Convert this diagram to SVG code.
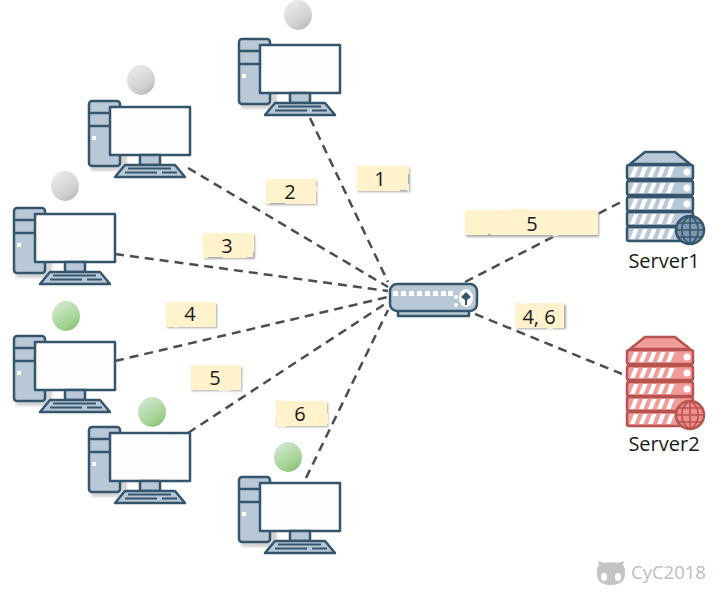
<svg xmlns="http://www.w3.org/2000/svg" width="718" height="591" viewBox="0 0 718 591">
<style>
text{font-family:"Open Sans","Noto Sans","DejaVu Sans",sans-serif;fill:#1a1a1a}
.lab{font-size:20px;text-anchor:middle}
.srv{font-size:20px;text-anchor:middle}
.note{fill:#fff2cc;filter:url(#rough)}
.shadow{fill:#a8a8a8;filter:url(#soft)}
.conn{stroke:#4d4d4d;stroke-width:2.500;stroke-dasharray:9 6;fill:none}
.o{stroke:#34556e;stroke-width:2.500;stroke-linejoin:round}
.b{fill:#b9c8d6}
.w{fill:#fdfdfd}
.r{stroke:#b85450;stroke-width:2.500;stroke-linejoin:round}
.rb{fill:#f19c99}
</style>
<defs>
<filter id="rough" x="-5%" y="-10%" width="110%" height="120%"><feTurbulence type="fractalNoise" baseFrequency="0.06" numOctaves="2" seed="4"/><feDisplacementMap in="SourceGraphic" scale="3"/></filter>
<filter id="soft" x="-10%" y="-20%" width="120%" height="140%"><feGaussianBlur stdDeviation="1"/></filter>
<linearGradient id="gg" x1="0.200" y1="0" x2="0.800" y2="1"><stop offset="0" stop-color="#ececec"/><stop offset="0.700" stop-color="#d0d0d0"/><stop offset="1" stop-color="#b4b4b4"/></linearGradient>
<linearGradient id="gr" x1="0.200" y1="0" x2="0.800" y2="1"><stop offset="0" stop-color="#d5e8d4"/><stop offset="0.700" stop-color="#a3d392"/><stop offset="1" stop-color="#84bd70"/></linearGradient>
<g id="pc">
<rect x="2" y="8" width="36" height="62" fill="#d4d4d4" filter="url(#soft)"/>
<rect x="0" y="0" width="31" height="65" rx="3" class="o b"/>
<path d="M0 12H31M0 25H31" class="o" fill="none"/>
<rect x="3" y="35" width="4" height="4" fill="#fff"/>
<rect x="21" y="6" width="80" height="48" class="o w"/>
<rect x="51" y="54" width="20" height="10" class="o b"/>
<path d="M36 64H86L96 76H26Z" class="o b"/>
<path d="M39 67.500H82M36 71.500H68M73 71.500H88" stroke="#34556e" stroke-width="2" fill="none"/>
</g>
<g id="stripes" fill="#fff">
<path d="M7 2h4.500l-4 10h-4.500zM16 2h4.500l-4 10h-4.500zM25 2h4.500l-4 10h-4.500zM34 2h4.500l-4 10h-4.500zM43 2h4.500l-4 10h-4.500z"/>
</g>
<g id="srvS">
<path d="M3 12L18 0H48L63 12Z" class="o b"/>
<g class="o"><rect x="0" y="13" width="66" height="14" rx="2" class="b"/><rect x="0" y="29" width="66" height="14" rx="2" class="b"/><rect x="0" y="45" width="66" height="14" rx="2" class="b"/><rect x="0" y="60" width="66" height="14" rx="2" class="b"/><rect x="0" y="75" width="66" height="14" rx="2" class="b"/></g>
<use href="#stripes" y="13"/><use href="#stripes" y="29"/><use href="#stripes" y="45"/><use href="#stripes" y="60"/><use href="#stripes" y="75"/>
<circle cx="60" cy="20" r="3.500" fill="#fff"/><circle cx="60" cy="36" r="3.500" fill="#fff"/><circle cx="60" cy="52" r="3.500" fill="#fff"/>
<circle cx="63" cy="78" r="14" fill="#7f98ad" class="o"/>
<path d="M63 64V92M49 78H77M51 71H75M51 85H75M63 64C52 70 52 86 63 92M63 64C74 70 74 86 63 92" stroke="#34556e" stroke-width="1.600" fill="none"/>
</g>
<g id="srvR">
<path d="M3 12L18 0H48L63 12Z" class="r rb"/>
<g class="r"><rect x="0" y="13" width="66" height="14" rx="2" class="rb"/><rect x="0" y="29" width="66" height="14" rx="2" class="rb"/><rect x="0" y="45" width="66" height="14" rx="2" class="rb"/><rect x="0" y="60" width="66" height="14" rx="2" class="rb"/><rect x="0" y="75" width="66" height="14" rx="2" class="rb"/></g>
<use href="#stripes" y="13"/><use href="#stripes" y="29"/><use href="#stripes" y="45"/><use href="#stripes" y="60"/><use href="#stripes" y="75"/>
<circle cx="60" cy="20" r="3.500" fill="#fff"/><circle cx="60" cy="36" r="3.500" fill="#fff"/><circle cx="60" cy="52" r="3.500" fill="#fff"/>
<circle cx="63" cy="78" r="14" fill="#ee8f8c" class="r"/>
<path d="M63 64V92M49 78H77M51 71H75M51 85H75M63 64C52 70 52 86 63 92M63 64C74 70 74 86 63 92" stroke="#b85450" stroke-width="1.600" fill="none"/>
</g>
</defs>
<rect width="718" height="591" fill="#fff"/>
<g id="connectors">
<path class="conn" d="M310 118L388 282"/>
<path class="conn" d="M188 168L388 287"/>
<path class="conn" d="M115 254L388 291"/>
<path class="conn" d="M115 361L388 297"/>
<path class="conn" d="M188 433L388 302"/>
<path class="conn" d="M306 478L388 310"/>
<path class="conn" d="M465 282L625 200"/>
<path class="conn" d="M475 314L622 374"/>
</g>
<g id="pc1"><use href="#pc" x="239" y="39"/><ellipse cx="298" cy="15" rx="14" ry="15" fill="url(#gg)"/></g>
<g id="pc2"><use href="#pc" x="89" y="101"/><ellipse cx="141" cy="80" rx="14" ry="15" fill="url(#gg)"/></g>
<g id="pc3"><use href="#pc" x="14" y="208"/><ellipse cx="65" cy="186" rx="14" ry="15" fill="url(#gg)"/></g>
<g id="pc4"><use href="#pc" x="14" y="336"/><ellipse cx="66" cy="316" rx="14" ry="15" fill="url(#gr)"/></g>
<g id="pc5"><use href="#pc" x="89" y="427"/><ellipse cx="152" cy="412" rx="14" ry="15" fill="url(#gr)"/></g>
<g id="pc6"><use href="#pc" x="239" y="477"/><ellipse cx="288" cy="457" rx="14" ry="15" fill="url(#gr)"/></g>
<g id="switch">
<rect x="398" y="306" width="71" height="10" class="o b"/>
<rect x="390" y="284" width="87" height="27" rx="7" class="o b"/>
<g fill="#fff"><rect x="393" y="291" width="5" height="5"/><rect x="401" y="291" width="5" height="5"/><rect x="409" y="291" width="5" height="5"/><rect x="417" y="291" width="5" height="5"/><rect x="425" y="291" width="5" height="5"/><rect x="433" y="291" width="5" height="5"/><rect x="441" y="291" width="5" height="5"/><rect x="448" y="291" width="5" height="5"/></g>
<circle cx="456" cy="305" r="2" fill="#fff"/><circle cx="456" cy="297" r="2" fill="#fff"/>
<ellipse cx="466" cy="298" rx="7" ry="9" fill="#fff"/>
<path d="M466 292L471 297L467 300V305H465V300L461 297Z" fill="#34556e"/>
</g>
<g id="server1"><use href="#srvS" x="627" y="152"/><text class="srv" x="664" y="268">Server1</text></g>
<g id="server2"><use href="#srvR" x="627" y="337"/><text class="srv" x="664" y="451">Server2</text></g>
<g id="label1"><rect class="shadow" x="358" y="168" width="52" height="24"/><rect class="note" x="357" y="166" width="52" height="25"/><text class="lab" x="380" y="186">1</text></g>
<g id="label2"><rect class="shadow" x="267" y="181" width="50" height="24"/><rect class="note" x="266" y="179" width="50" height="25"/><text class="lab" x="290" y="199">2</text></g>
<g id="label3"><rect class="shadow" x="204" y="235" width="51" height="24"/><rect class="note" x="203" y="233" width="51" height="25"/><text class="lab" x="227" y="253">3</text></g>
<g id="label4"><rect class="shadow" x="167" y="304" width="50" height="24"/><rect class="note" x="166" y="302" width="50" height="25"/><text class="lab" x="190" y="321">4</text></g>
<g id="label5"><rect class="shadow" x="192" y="367" width="50" height="24"/><rect class="note" x="191" y="365" width="50" height="25"/><text class="lab" x="215" y="385">5</text></g>
<g id="label6"><rect class="shadow" x="277" y="403" width="51" height="24"/><rect class="note" x="276" y="401" width="51" height="25"/><text class="lab" x="300" y="421">6</text></g>
<g id="label5b"><rect class="shadow" x="466" y="212" width="133" height="25"/><rect class="note" x="465" y="210" width="133" height="25"/><text class="lab" x="532" y="231">5</text></g>
<g id="label46"><rect class="shadow" x="517" y="305" width="49" height="24"/><rect class="note" x="515" y="303" width="49" height="25"/><text class="lab" x="539" y="324">4, 6</text></g>
<g id="watermark">
<path d="M597 573C597 568 598 566 599 565L598 561L604 563C607 562 615 562 618 563L624 561L623 565C625 568 625 570 625 573C625 580 622 585 611 585C600 585 597 580 597 573Z" fill="#c4c4c4"/>
<ellipse cx="604" cy="577" rx="3" ry="4" fill="#fff"/><ellipse cx="618" cy="577" rx="3" ry="4" fill="#fff"/>
<text x="631" y="579" font-size="18.500" style="fill:#bdbdbd">CyC2018</text>
</g>
</svg>
